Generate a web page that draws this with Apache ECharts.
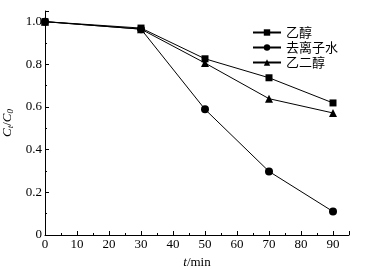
<!DOCTYPE html>
<html>
<head>
<meta charset="utf-8">
<script src="https://cdn.jsdelivr.net/npm/echarts@6/dist/echarts.min.js"></script>
<style>
html, body { margin: 0; padding: 0; background: #fff; }
#chart { width: 365px; height: 269px; }
</style>
</head>
<body>
<div id="chart"></div>
<script>
// 时间 t/min
let times = [0, 30, 50, 70, 90];
// C_t/C_0
let ethanol = [1.0, 0.97, 0.826, 0.737, 0.619];
let water = [1.0, 0.965, 0.589, 0.298, 0.11];
let glycol = [1.0, 0.965, 0.806, 0.639, 0.572];
let seriesNames = ['乙醇', '去离子水', '乙二醇'];
let seriesSymbols = ['rect', 'circle', 'triangle'];

let serif = '"Liberation Serif", "DejaVu Serif", serif';
let cjk = '"Noto Sans CJK SC", sans-serif';

function pairs(arr) {
    return times.map((t, i) => [t, arr[i]]);
}

let myChart = echarts.init(document.getElementById('chart'));
let option = {
    animation: false,
    backgroundColor: '#fff',
    grid: { left: 45, right: 16, top: 11, bottom: 34, containLabel: false, outerBoundsMode: 'none' },
    legend: {
        left: 247,
        top: 21,
        orient: 'vertical',
        itemWidth: 28,
        itemHeight: 8,
        itemGap: 2,
        textStyle: { fontFamily: cjk, fontSize: 13, lineHeight: 13, color: '#000' },
        data: seriesNames
    },
    xAxis: {
        type: 'value',
        min: 0,
        max: 95,
        interval: 10,
        name: '{i|t}{n|/min}',
        nameLocation: 'middle',
        nameGap: 19,
        nameTextStyle: {
            rich: {
                i: { fontFamily: serif, fontStyle: 'italic', fontSize: 13, color: '#000' },
                n: { fontFamily: serif, fontSize: 13, color: '#000' }
            }
        },
        axisLine: { lineStyle: { color: '#000', width: 1 } },
        axisTick: { inside: true, length: 4, lineStyle: { color: '#000' } },
        minorTick: { show: true, splitNumber: 2, length: 2, lineStyle: { color: '#000' } },
        splitLine: { show: false },
        axisLabel: {
            color: '#000', fontFamily: serif, fontSize: 13, margin: 3,
            formatter: v => (v > 90 ? '' : String(v))
        }
    },
    yAxis: {
        type: 'value',
        min: 0,
        max: 1.05,
        interval: 0.2,
        name: '{i|C}{s|t}{n|/}{i|C}{s|0}',
        nameLocation: 'middle',
        nameRotate: 90,
        nameGap: 22,
        nameTextStyle: {
            rich: {
                i: { fontFamily: serif, fontStyle: 'italic', fontSize: 13, color: '#000' },
                s: { fontFamily: serif, fontStyle: 'italic', fontSize: 9, color: '#000', verticalAlign: 'bottom', padding: [6, 0, 0, 0] },
                n: { fontFamily: serif, fontSize: 13, color: '#000' }
            }
        },
        axisLine: { show: true, lineStyle: { color: '#000', width: 1 } },
        axisTick: { show: true, inside: true, length: 4, lineStyle: { color: '#000' } },
        minorTick: { show: true, splitNumber: 2, length: 2, lineStyle: { color: '#000' } },
        splitLine: { show: false },
        axisLabel: {
            color: '#000', fontFamily: serif, fontSize: 13, margin: 3,
            formatter: v => (v === 0 ? '0' : v > 1.01 ? '' : v.toFixed(1))
        }
    },
    series: [ethanol, water, glycol].map((arr, i) => ({
        name: seriesNames[i],
        type: 'line',
        data: pairs(arr),
        symbol: seriesSymbols[i],
        symbolSize: i === 0 ? 7 : 8,
        itemStyle: { color: '#000' },
        lineStyle: { color: '#000', width: 1 }
    }))
};
myChart.setOption(option, true);
</script>
</body>
</html>
